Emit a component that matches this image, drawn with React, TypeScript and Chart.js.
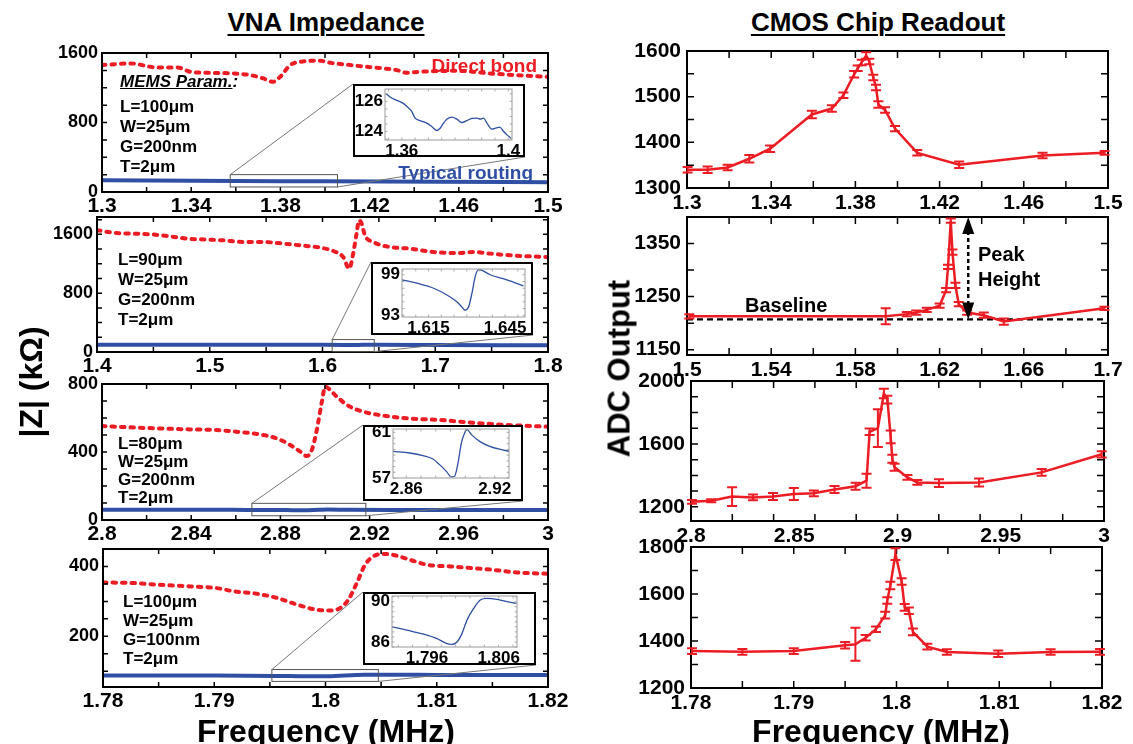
import React, { useEffect, useRef } from "react";
import { Chart, registerables } from "chart.js";

Chart.register(...registerables);

const FONT = '"Liberation Sans", Arial, Helvetica, sans-serif';
const RED = "#ec1c24";
const BLUE = "#2e4fa3";

// ---------------- VNA impedance (left column) ----------------
// Panel A: L=100um, G=200nm
const vnaA_freq = [1.3, 1.3127, 1.3246, 1.3336, 1.3396, 1.347, 1.359, 1.3665, 1.3724, 1.3766, 1.3799, 1.3844, 1.3889, 1.3978, 1.4023, 1.4113, 1.4187, 1.4262, 1.4322, 1.4367, 1.4426, 1.4591, 1.474, 1.486, 1.5];
const vnaA_direct = [1461, 1480, 1434, 1434, 1384, 1372, 1365, 1345, 1307, 1268, 1326, 1461, 1499, 1511, 1488, 1461, 1441, 1423, 1403, 1372, 1384, 1395, 1365, 1345, 1326];
const vnaA_routingFreq = [1.3, 1.36, 1.38, 1.4, 1.45, 1.5];
const vnaA_routing = [134, 126.5, 124.6, 123.6, 119, 113];
const vnaA_xTicks = ["1.3", "1.34", "1.38", "1.42", "1.46", "1.5"];
const vnaA_yTicks = ["0", "800", "1600"];
const insetA_freq = [1.35408, 1.35558, 1.35809, 1.35998, 1.36186, 1.36374, 1.365, 1.36688, 1.36939, 1.37127, 1.37316, 1.37441, 1.37567, 1.37692, 1.37881, 1.38069, 1.38257, 1.38445, 1.38634, 1.38822, 1.38948, 1.39073, 1.39199, 1.39387, 1.39512, 1.39676, 1.39826, 1.39952, 1.40102];
const insetA_z = [126.51, 126.29, 126.07, 125.93, 125.67, 125.33, 124.89, 124.73, 124.56, 124.33, 124.07, 124.22, 124.56, 124.82, 124.96, 124.82, 124.6, 124.73, 124.87, 124.89, 124.82, 124.89, 124.56, 124.16, 124.22, 124.29, 124.0, 123.78, 123.56];
const insetA_xTicks = ["1.36", "1.4"];
const insetA_yTicks = ["124", "126"];
const zoomA_x = [1.3575, 1.4056];
const zoomA_y = [58, 200];

// Panel B: L=90um
const vnaB_freq = [1.4, 1.4172, 1.432, 1.4468, 1.4645, 1.4794, 1.4971, 1.5118, 1.5296, 1.5473, 1.5651, 1.5799, 1.5977, 1.6095, 1.6183, 1.6237, 1.6272, 1.6302, 1.6325, 1.6347, 1.6376, 1.645, 1.6598, 1.6775, 1.6982, 1.719, 1.7337, 1.7485, 1.7663, 1.784, 1.8];
const vnaB_direct = [1655, 1619, 1610, 1601, 1574, 1542, 1529, 1519, 1496, 1496, 1474, 1451, 1420, 1374, 1292, 1134, 1338, 1610, 1791, 1746, 1587, 1496, 1428, 1406, 1360, 1346, 1360, 1338, 1315, 1301, 1292];
const vnaB_routingFreq = [1.4, 1.5, 1.6, 1.625, 1.629, 1.635, 1.65, 1.7, 1.8];
const vnaB_routing = [100, 99, 98.3, 95.5, 93.8, 99.7, 97.4, 95, 91];
const vnaB_xTicks = ["1.4", "1.5", "1.6", "1.7", "1.8"];
const vnaB_yTicks = ["0", "800", "1600"];
const insetB_freq = [1.6046, 1.6104, 1.617, 1.6222, 1.6261, 1.628, 1.6293, 1.6307, 1.632, 1.6333, 1.6346, 1.6359, 1.6391, 1.6457, 1.6522];
const insetB_z = [98.25, 97.75, 97.0, 96.0, 95.0, 94.25, 93.75, 94.25, 96.25, 98.75, 99.75, 99.65, 99.0, 98.25, 97.35];
const insetB_xTicks = ["1.615", "1.645"];
const insetB_yTicks = ["93", "99"];
const zoomB_x = [1.6086, 1.6459];
const zoomB_y = [5, 169];

// Panel C: L=80um
const vnaC_freq = [2.8, 2.8127, 2.8246, 2.8396, 2.8515, 2.8605, 2.8695, 2.8784, 2.8844, 2.8889, 2.8919, 2.8941, 2.8963, 2.8986, 2.9001, 2.9015, 2.9053, 2.9113, 2.9172, 2.9247, 2.9367, 2.9517, 2.9666, 2.9815, 3.0];
const vnaC_direct = [553, 545, 539, 533, 529, 519, 506, 480, 441, 402, 376, 412, 529, 696, 784, 774, 725, 666, 637, 617, 598, 588, 572, 559, 549];
const vnaC_routingFreq = [2.8, 2.85, 2.865, 2.878, 2.8826, 2.8906, 2.8974, 2.9012, 2.91, 2.93, 2.96, 3.0];
const vnaC_routing = [61, 60, 59.2, 58.7, 58.2, 57.1, 60.1, 61.2, 60.2, 59.3, 59, 58.5];
const vnaC_xTicks = ["2.8", "2.84", "2.88", "2.92", "2.96", "3"];
const vnaC_yTicks = ["0", "400", "800"];
const insetC_freq = [2.851, 2.8623, 2.8713, 2.8781, 2.8826, 2.8872, 2.8906, 2.8928, 2.8951, 2.8974, 2.8996, 2.9012, 2.9042, 2.9098, 2.9166, 2.9245, 2.9297];
const insetC_z = [59.34, 59.19, 58.96, 58.66, 58.17, 57.58, 57.09, 57.15, 58.31, 60.07, 60.94, 61.23, 60.8, 60.21, 59.77, 59.48, 59.34];
const insetC_xTicks = ["2.86", "2.92"];
const insetC_yTicks = ["57", "61"];
const zoomC_x = [2.8672, 2.9183];
const zoomC_y = [25, 98];

// Panel D: L=100um, G=100nm
const vnaD_freq = [1.78, 1.78245, 1.78485, 1.78784, 1.79024, 1.79173, 1.79383, 1.79563, 1.79743, 1.79922, 1.80042, 1.80132, 1.80206, 1.80282, 1.80356, 1.80431, 1.8052, 1.8061, 1.8076, 1.8091, 1.8112, 1.81329, 1.8148, 1.81719, 1.82];
const vnaD_direct = [354, 353, 348, 343, 338, 329, 322, 310, 291, 276, 274, 281, 305, 353, 405, 429, 436, 433, 419, 405, 400, 395, 391, 383, 379];
const vnaD_routingFreq = [1.78, 1.79, 1.7955, 1.7985, 1.8002, 1.8035, 1.806, 1.81, 1.82];
const vnaD_routing = [88, 87.8, 86.8, 85.8, 86, 90.2, 90.2, 89.5, 89];
const vnaD_xTicks = ["1.78", "1.79", "1.8", "1.81", "1.82"];
const vnaD_yTicks = ["200", "400"];
const insetD_freq = [1.79112, 1.79321, 1.79553, 1.7974, 1.79879, 1.79949, 1.80019, 1.80088, 1.80158, 1.80251, 1.80344, 1.80437, 1.80577, 1.80716, 1.80847];
const insetD_z = [87.5, 87.17, 86.77, 86.33, 85.83, 85.77, 86.0, 86.83, 88.17, 89.33, 90.17, 90.33, 90.23, 90.0, 89.83];
const insetD_xTicks = ["1.796", "1.806"];
const insetD_yTicks = ["86", "90"];
const zoomD_x = [1.79518, 1.80475];
const zoomD_y = [71, 105];

const paramsA = ["L=100μm", "W=25μm", "G=200nm", "T=2μm"];
const paramsB = ["L=90μm", "W=25μm", "G=200nm", "T=2μm"];
const paramsC = ["L=80μm", "W=25μm", "G=200nm", "T=2μm"];
const paramsD = ["L=100μm", "W=25μm", "G=100nm", "T=2μm"];

// ---------------- CMOS chip readout (right column) ----------------
const adcA_freq = [1.3003, 1.3098, 1.3193, 1.3296, 1.3395, 1.3593, 1.3688, 1.3743, 1.3794, 1.3811, 1.383, 1.3851, 1.3866, 1.3885, 1.3898, 1.3909, 1.3941, 1.3988, 1.4094, 1.4293, 1.4689, 1.4984];
const adcA_value = [1340, 1340, 1345, 1364, 1386, 1461, 1474, 1503, 1549, 1562, 1575, 1590, 1577, 1542, 1520, 1483, 1471, 1430, 1377, 1351, 1371, 1377];
const adcA_err = [6, 7, 6, 8, 7, 8, 7, 6, 7, 6, 6, 7, 6, 6, 6, 7, 6, 6, 6, 7, 6, 4];
const adcA_xTicks = ["1.3", "1.34", "1.38", "1.42", "1.46", "1.5"];
const adcA_yTicks = ["1300", "1400", "1500", "1600"];

const adcB_freq = [1.5011, 1.5944, 1.6044, 1.6089, 1.6139, 1.62, 1.6231, 1.624, 1.6253, 1.6261, 1.6275, 1.6291, 1.6331, 1.641, 1.6505, 1.6983];
const adcB_value = [1213, 1213, 1217, 1220, 1225, 1233, 1262, 1306, 1393, 1334, 1271, 1236, 1220, 1215, 1203, 1228];
const adcB_err = [4, 15, 4, 4, 4, 4, 4, 4, 4, 5, 5, 4, 4, 5, 6, 3];
const adcB_xTicks = ["1.5", "1.54", "1.58", "1.62", "1.66", "1.7"];
const adcB_yTicks = ["1150", "1250", "1350"];
const baselineFreq = [1.5, 1.7];
const baselineValue = [1207, 1207];
const peakArrowFreq = 1.6336;
const peakArrowRange = [1207, 1400];

const adcC_freq = [2.8005, 2.8098, 2.8199, 2.83, 2.8397, 2.8498, 2.8595, 2.8695, 2.8797, 2.885, 2.8865, 2.8905, 2.8934, 2.8951, 2.8967, 2.8975, 2.8986, 2.9048, 2.9096, 2.9201, 2.9395, 2.9698, 2.9989];
const adcC_value = [1232, 1239, 1265, 1260, 1266, 1282, 1286, 1310, 1331, 1366, 1677, 1700, 1921, 1882, 1645, 1506, 1452, 1387, 1355, 1351, 1355, 1419, 1534];
const adcC_err = [12, 10, 60, 18, 22, 38, 18, 22, 22, 45, 21, 120, 30, 25, 40, 25, 22, 15, 15, 25, 25, 22, 20];
const adcC_xTicks = ["2.8", "2.85", "2.9", "2.95", "3"];
const adcC_yTicks = ["1200", "1600", "2000"];

const adcD_freq = [1.7801, 1.785, 1.79, 1.795, 1.796, 1.797, 1.798, 1.7989, 1.7991, 1.7994, 1.7999, 1.8005, 1.8008, 1.8012, 1.8016, 1.803, 1.8049, 1.8099, 1.815, 1.8198];
const adcD_value = [1357, 1354, 1357, 1382, 1386, 1414, 1450, 1510, 1572, 1636, 1770, 1653, 1543, 1529, 1439, 1376, 1353, 1346, 1353, 1354];
const adcD_err = [12, 12, 12, 14, 70, 12, 12, 14, 14, 16, 25, 14, 14, 14, 14, 12, 12, 14, 12, 12];
const adcD_xTicks = ["1.78", "1.79", "1.8", "1.81", "1.82"];
const adcD_yTicks = ["1200", "1400", "1600", "1800"];

// ---------------- helpers ----------------
type Area = { L: number; T: number; R: number; B: number };
type Pad = [number, number, number, number];
type AxisSpec = { min: number; max: number; step: number; labels: string[]; size: number; pad: number };

const zip = (xs: number[], ys: number[]) => xs.map((x, i) => ({ x, y: ys[i] }));

function stepValues(min: number, max: number, step: number) {
  const out: number[] = [];
  const n0 = Math.ceil(min / step - 1e-6);
  const n1 = Math.floor(max / step + 1e-6);
  for (let n = n0; n <= n1; n++) out.push(n * step);
  return out;
}

function axis(spec: AxisSpec, horizontal: boolean) {
  const vals = spec.labels.map(Number);
  return {
    type: "linear",
    min: spec.min,
    max: spec.max,
    position: horizontal ? "bottom" : "left",
    grid: { display: false, drawTicks: false },
    border: { display: false },
    ticks: {
      autoSkip: false,
      maxRotation: 0,
      minRotation: 0,
      padding: spec.pad,
      color: "#000",
      font: { family: FONT, size: spec.size, weight: "bold" },
      callback: (v: number) => {
        const i = vals.findIndex((t) => Math.abs(t - v) < 1e-9);
        return i >= 0 ? spec.labels[i] : "";
      },
    },
    afterBuildTicks: (s: any) => {
      s.ticks = vals.map((v) => ({ value: v }));
    },
  };
}

function boxPlugin(xStep: number, yStep: number, len: number, color: string, border: number, tickW: number) {
  return {
    id: "boxAxes",
    afterDatasetsDraw(chart: any) {
      const { ctx, chartArea: a, scales } = chart;
      const x = scales.x;
      const y = scales.y;
      ctx.save();
      ctx.strokeStyle = color;
      ctx.lineWidth = tickW;
      ctx.beginPath();
      for (const v of stepValues(x.min, x.max, xStep)) {
        const p = x.getPixelForValue(v);
        ctx.moveTo(p, a.bottom);
        ctx.lineTo(p, a.bottom - len);
        ctx.moveTo(p, a.top);
        ctx.lineTo(p, a.top + len);
      }
      for (const v of stepValues(y.min, y.max, yStep)) {
        const p = y.getPixelForValue(v);
        ctx.moveTo(a.left, p);
        ctx.lineTo(a.left + len, p);
        ctx.moveTo(a.right, p);
        ctx.lineTo(a.right - len, p);
      }
      ctx.stroke();
      ctx.lineWidth = border;
      ctx.strokeRect(a.left, a.top, a.right - a.left, a.bottom - a.top);
      ctx.restore();
    },
  };
}

function zoomPlugin(rx: number[], ry: number[], box: number[], off: [number, number]) {
  return {
    id: "zoomBox",
    afterDatasetsDraw(chart: any) {
      const { ctx, scales } = chart;
      const x0 = scales.x.getPixelForValue(rx[0]);
      const x1 = scales.x.getPixelForValue(rx[1]);
      const y0 = scales.y.getPixelForValue(ry[1]);
      const y1 = scales.y.getPixelForValue(ry[0]);
      ctx.save();
      ctx.strokeStyle = "#555";
      ctx.lineWidth = 1;
      ctx.strokeRect(x0, y0, x1 - x0, y1 - y0);
      ctx.strokeStyle = "#777";
      ctx.beginPath();
      ctx.moveTo(x0, y0);
      ctx.lineTo(box[0] - off[0], box[1] - off[1]);
      ctx.moveTo(x1, y1);
      ctx.lineTo(box[2] - off[0], box[3] - off[1]);
      ctx.stroke();
      ctx.restore();
    },
  };
}

function errPlugin(xs: number[], ys: number[], es: number[]) {
  return {
    id: "errBars",
    afterDatasetsDraw(chart: any) {
      const { ctx, scales } = chart;
      ctx.save();
      ctx.strokeStyle = RED;
      ctx.lineWidth = 2;
      ctx.beginPath();
      xs.forEach((xv, i) => {
        const px = scales.x.getPixelForValue(xv);
        const pt = scales.y.getPixelForValue(ys[i] + es[i]);
        const pb = scales.y.getPixelForValue(ys[i] - es[i]);
        const cap = 5;
        ctx.moveTo(px, pt);
        ctx.lineTo(px, pb);
        ctx.moveTo(px - cap, pt);
        ctx.lineTo(px + cap, pt);
        ctx.moveTo(px - cap, pb);
        ctx.lineTo(px + cap, pb);
      });
      ctx.stroke();
      ctx.restore();
    },
  };
}

function arrowPlugin(ax: number, range: number[]) {
  return {
    id: "peakArrow",
    afterDatasetsDraw(chart: any) {
      const { ctx, scales } = chart;
      const px = scales.x.getPixelForValue(ax);
      const pb = scales.y.getPixelForValue(range[0]);
      const pt = scales.y.getPixelForValue(range[1]);
      ctx.save();
      ctx.strokeStyle = "#000";
      ctx.fillStyle = "#000";
      ctx.lineWidth = 2.5;
      ctx.setLineDash([4, 3]);
      ctx.beginPath();
      ctx.moveTo(px, pt + 14);
      ctx.lineTo(px, pb - 14);
      ctx.stroke();
      ctx.setLineDash([]);
      ctx.beginPath();
      ctx.moveTo(px, pt);
      ctx.lineTo(px - 6, pt + 17);
      ctx.lineTo(px + 6, pt + 17);
      ctx.closePath();
      ctx.fill();
      ctx.beginPath();
      ctx.moveTo(px, pb);
      ctx.lineTo(px - 6, pb - 17);
      ctx.lineTo(px + 6, pb - 17);
      ctx.closePath();
      ctx.fill();
      ctx.restore();
    },
  };
}

function ChartBox({ area, pad, make }: { area: Area; pad: Pad; make: (off: [number, number]) => any }) {
  const ref = useRef<HTMLCanvasElement | null>(null);
  const left = area.L - pad[0];
  const top = area.T - pad[1];
  const w = area.R + pad[2] - left;
  const h = area.B + pad[3] - top;
  useEffect(() => {
    if (!ref.current) return;
    const cfg = make([left, top]);
    const o = cfg.options;
    o.responsive = false;
    o.animation = false;
    o.devicePixelRatio = 1;
    o.events = [];
    o.layout = { padding: { left: 0, top: pad[1], right: pad[2], bottom: 0 }, autoPadding: false };
    o.plugins = { legend: { display: false }, tooltip: { enabled: false }, title: { display: false } };
    const fit = (dim: string, v: number) => (s: any) => {
      s[dim] = v;
      s.paddingLeft = 0;
      s.paddingRight = 0;
      s.paddingTop = 0;
      s.paddingBottom = 0;
    };
    o.scales.x.afterFit = fit("height", pad[3]);
    o.scales.y.afterFit = fit("width", pad[0]);
    const chart = new Chart(ref.current, cfg);
    return () => chart.destroy();
  }, []);
  return (
    <canvas
      ref={ref}
      width={w}
      height={h}
      style={{ position: "absolute", left, top, width: w, height: h, display: "block" }}
    />
  );
}

// ---------------- panel tables ----------------
const vnaPanels = [
  {
    area: { L: 102, T: 53, R: 548, B: 192 },
    freq: vnaA_freq, direct: vnaA_direct, rFreq: vnaA_routingFreq, routing: vnaA_routing,
    x: { min: 1.3, max: 1.5, step: 0.02, labels: vnaA_xTicks },
    y: { min: 0, max: 1600, step: 200, labels: vnaA_yTicks },
    zx: zoomA_x, zy: zoomA_y,
    inset: {
      box: [353, 84, 525, 157], inner: { L: 385, T: 89, R: 512, B: 140 },
      freq: insetA_freq, z: insetA_z,
      x: { min: 1.3537, max: 1.4014, step: 0.005, labels: insetA_xTicks },
      y: { min: 123.44, max: 126.82, step: 0.5, labels: insetA_yTicks },
    },
  },
  {
    area: { L: 97, T: 217, R: 548, B: 352 },
    freq: vnaB_freq, direct: vnaB_direct, rFreq: vnaB_routingFreq, routing: vnaB_routing,
    x: { min: 1.4, max: 1.8, step: 0.05, labels: vnaB_xTicks },
    y: { min: 0, max: 1836, step: 200, labels: vnaB_yTicks },
    zx: zoomB_x, zy: zoomB_y,
    inset: {
      box: [371, 262, 533, 335], inner: { L: 402, T: 269, R: 525, B: 317 },
      freq: insetB_freq, z: insetB_z,
      x: { min: 1.6046, max: 1.6528, step: 0.005, labels: insetB_xTicks },
      y: { min: 92.75, max: 99.85, step: 1, labels: insetB_yTicks },
    },
  },
  {
    area: { L: 102, T: 384, R: 548, B: 520 },
    freq: vnaC_freq, direct: vnaC_direct, rFreq: vnaC_routingFreq, routing: vnaC_routing,
    x: { min: 2.8, max: 3.0, step: 0.02, labels: vnaC_xTicks },
    y: { min: 0, max: 800, step: 100, labels: vnaC_yTicks },
    zx: zoomC_x, zy: zoomC_y,
    inset: {
      box: [363, 425, 523, 501], inner: { L: 393, T: 429, R: 509, B: 478 },
      freq: insetC_freq, z: insetC_z,
      x: { min: 2.851, max: 2.9297, step: 0.01, labels: insetC_xTicks },
      y: { min: 57, max: 61.29, step: 0.5, labels: insetC_yTicks },
    },
  },
  {
    area: { L: 103, T: 549, R: 548, B: 687 },
    freq: vnaD_freq, direct: vnaD_direct, rFreq: vnaD_routingFreq, routing: vnaD_routing,
    x: { min: 1.78, max: 1.82, step: 0.005, labels: vnaD_xTicks },
    y: { min: 55, max: 450, step: 50, labels: vnaD_yTicks },
    zx: zoomD_x, zy: zoomD_y,
    inset: {
      box: [363, 592, 536, 665], inner: { L: 392, T: 596, R: 517, B: 647 },
      freq: insetD_freq, z: insetD_z,
      x: { min: 1.79112, max: 1.80856, step: 0.002, labels: insetD_xTicks },
      y: { min: 85.5, max: 90.57, step: 0.5, labels: insetD_yTicks },
    },
  },
];

const adcPanels = [
  {
    area: { L: 687, T: 51, R: 1108, B: 188 },
    freq: adcA_freq, value: adcA_value, err: adcA_err,
    x: { min: 1.3, max: 1.5, step: 0.02, labels: adcA_xTicks },
    y: { min: 1300, max: 1600, step: 50, labels: adcA_yTicks },
    extra: false,
  },
  {
    area: { L: 687, T: 217, R: 1108, B: 355 },
    freq: adcB_freq, value: adcB_value, err: adcB_err,
    x: { min: 1.5, max: 1.7, step: 0.02, labels: adcB_xTicks },
    y: { min: 1140, max: 1400, step: 50, labels: adcB_yTicks },
    extra: true,
  },
  {
    area: { L: 691, T: 381, R: 1104, B: 521 },
    freq: adcC_freq, value: adcC_value, err: adcC_err,
    x: { min: 2.8, max: 3.0, step: 0.02, labels: adcC_xTicks },
    y: { min: 1110, max: 2000, step: 100, labels: adcC_yTicks },
    extra: false,
  },
  {
    area: { L: 691, T: 547, R: 1102, B: 688 },
    freq: adcD_freq, value: adcD_value, err: adcD_err,
    x: { min: 1.78, max: 1.82, step: 0.005, labels: adcD_xTicks },
    y: { min: 1200, max: 1800, step: 100, labels: adcD_yTicks },
    extra: false,
  },
];

const paramSets = [paramsA, paramsB, paramsC, paramsD];
const paramPos = [
  { x: 120, caps: [100, 120, 140, 160] },
  { x: 118, caps: [253, 273, 293, 313] },
  { x: 118, caps: [437, 455, 473, 491.5] },
  { x: 123, caps: [595, 614, 633, 652] },
];

function Txt({ x, cap, size, align = "left", color = "#000", italic = false, children }: any) {
  const top = cap - 0.13 * size;
  const style: any = {
    position: "absolute",
    top,
    whiteSpace: "nowrap",
    fontFamily: FONT,
    fontWeight: "bold",
    fontStyle: italic ? "italic" : "normal",
    fontSize: size,
    lineHeight: `${size}px`,
    color,
  };
  if (align === "left") style.left = x;
  else if (align === "right") {
    style.left = x - 600;
    style.width = 600;
    style.textAlign = "right";
  } else {
    style.left = x - 400;
    style.width = 800;
    style.textAlign = "center";
  }
  return <div style={style}>{children}</div>;
}

function VTxt({ cx, cy, size, children }: any) {
  const W = 300;
  const H = size + 4;
  return (
    <div
      style={{
        position: "absolute",
        left: cx - W / 2,
        top: cy - H / 2,
        width: W,
        height: H,
        lineHeight: `${H}px`,
        textAlign: "center",
        fontFamily: FONT,
        fontWeight: "bold",
        fontSize: size,
        whiteSpace: "nowrap",
        transform: "rotate(-90deg)",
        transformOrigin: "50% 50%",
      }}
    >
      {children}
    </div>
  );
}

export default function App() {
  return (
    <div style={{ position: "fixed", left: 0, top: 0, width: 1133, height: 744, background: "#fff", overflow: "hidden" }}>
      {vnaPanels.map((p, k) => (
        <ChartBox
          key={"vna" + k}
          area={p.area}
          pad={[75, 14, 22, 30]}
          make={(off) => ({
            type: "line",
            data: {
              datasets: [
                { data: zip(p.freq, p.direct), borderColor: RED, borderWidth: 4, borderDash: [3.5, 6], borderCapStyle: "round", pointRadius: 0, cubicInterpolationMode: "monotone", fill: false },
                { data: zip(p.rFreq, p.routing), borderColor: BLUE, borderWidth: 4, pointRadius: 0, cubicInterpolationMode: "monotone", fill: false },
              ],
            },
            options: {
              scales: {
                x: axis({ ...p.x, size: 21, pad: 2 }, true),
                y: axis({ ...p.y, size: 18, pad: 4 }, false),
              },
            },
            plugins: [boxPlugin(p.x.step, p.y.step, 5, "#000", 2, 1.5), zoomPlugin(p.zx, p.zy, p.inset.box, off)],
          })}
        />
      ))}
      {adcPanels.map((p, k) => (
        <ChartBox
          key={"adc" + k}
          area={p.area}
          pad={[75, 14, 25, 30]}
          make={() => {
            const datasets: any[] = [
              { data: zip(p.freq, p.value), borderColor: RED, borderWidth: 2.5, pointRadius: 0, tension: 0, fill: false },
            ];
            const plugins: any[] = [boxPlugin(p.x.step, p.y.step, 7, "#000", 2, 1.5), errPlugin(p.freq, p.value, p.err)];
            if (p.extra) {
              datasets.push({ data: zip(baselineFreq, baselineValue), borderColor: "#000", borderWidth: 2.2, borderDash: [6, 4], pointRadius: 0, fill: false });
              plugins.push(arrowPlugin(peakArrowFreq, peakArrowRange));
            }
            return {
              type: "line",
              data: { datasets },
              options: {
                scales: {
                  x: axis({ ...p.x, size: 21, pad: 3 }, true),
                  y: axis({ ...p.y, size: 21, pad: 6 }, false),
                },
              },
              plugins,
            };
          }}
        />
      ))}
      {vnaPanels.map((p, k) => {
        const b = p.inset.box;
        const inner = p.inset.inner;
        return (
          <React.Fragment key={"inset" + k}>
            <div
              style={{
                position: "absolute",
                left: b[0],
                top: b[1],
                width: b[2] - b[0],
                height: b[3] - b[1],
                border: "2px solid #000",
                boxSizing: "border-box",
                background: "#fff",
              }}
            />
            <ChartBox
              area={inner}
              pad={[inner.L - b[0], inner.T - b[1], b[2] - inner.R, b[3] - inner.B]}
              make={() => ({
                type: "line",
                data: {
                  datasets: [
                    { data: zip(p.inset.freq, p.inset.z), borderColor: BLUE, borderWidth: 1.3, pointRadius: 0, cubicInterpolationMode: "monotone", fill: false },
                  ],
                },
                options: {
                  scales: {
                    x: axis({ ...p.inset.x, size: 17, pad: 1 }, true),
                    y: axis({ ...p.inset.y, size: 17, pad: 2 }, false),
                  },
                },
                plugins: [boxPlugin(p.inset.x.step, p.inset.y.step, 2.5, "#9a9a9a", 1, 0.8)],
              })}
            />
          </React.Fragment>
        );
      })}

      {/* Titles */}
      <Txt x={326} cap={12} size={26} align="center">
        <span style={{ textDecoration: "underline", textDecorationThickness: "2px", textUnderlineOffset: "3px" }}>VNA Impedance</span>
      </Txt>
      <Txt x={878} cap={12} size={26} align="center">
        <span style={{ textDecoration: "underline", textDecorationThickness: "2px", textUnderlineOffset: "3px" }}>CMOS Chip Readout</span>
      </Txt>
      <Txt x={326} cap={719} size={32} align="center">Frequency (MHz)</Txt>
      <Txt x={881} cap={719} size={32} align="center">Frequency (MHz)</Txt>
      <VTxt cx={31} cy={382} size={32}>|Z| (kΩ)</VTxt>
      <VTxt cx={619} cy={368} size={31}>ADC Output</VTxt>

      {/* Left panel annotations */}
      <Txt x={120} cap={75} size={17} italic>
        <span style={{ textDecoration: "underline" }}>MEMS Param.</span>:
      </Txt>
      {paramSets.map((lines, k) =>
        lines.map((t, j) => (
          <Txt key={`p${k}-${j}`} x={paramPos[k].x} cap={paramPos[k].caps[j]} size={17}>
            {t}
          </Txt>
        ))
      )}
      <Txt x={537} cap={58.5} size={19} align="right" color={RED}>Direct bond</Txt>
      <Txt x={533} cap={165} size={19} align="right" color={BLUE}>Typical routing</Txt>

      {/* Right panel annotations */}
      <Txt x={745} cap={298} size={20}>Baseline</Txt>
      <Txt x={978} cap={247} size={20}>Peak</Txt>
      <Txt x={978} cap={272} size={20}>Height</Txt>
    </div>
  );
}
